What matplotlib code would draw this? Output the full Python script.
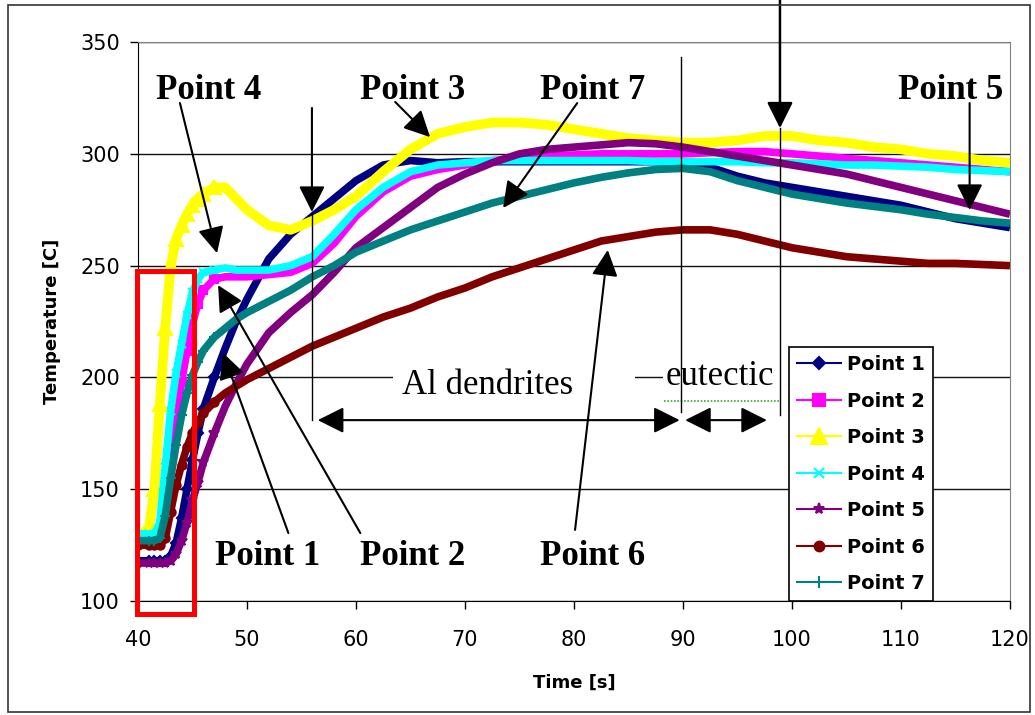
import matplotlib
matplotlib.use('Agg')
import matplotlib.pyplot as plt
from matplotlib.lines import Line2D
from matplotlib.patches import Rectangle

plt.rcParams['font.family'] = ['DejaVu Sans']

# time axis (s) shared by all probes
time = [40, 41, 41.5, 42, 42.5, 43, 43.5, 44, 44.5, 45, 45.5, 46, 47, 48, 49, 50,
        52, 54, 56, 58, 60, 62.5, 65, 67.5, 70, 72.5, 75, 77.5, 80, 82.5, 85, 87.5,
        90, 92.5, 95, 97.5, 100, 102.5, 105, 107.5, 110, 112.5, 115, 117.5, 120]

p1 = [118, 118, 118, 118, 118, 120, 126, 137, 150, 163, 175, 186, 200, 213, 225, 235,
      253, 264, 272, 280, 288, 295, 297, 296, 296.5, 296.5, 296.5, 296.5, 296.5, 296.5, 296.5, 296.5,
      296, 294, 290, 287, 285, 283, 281, 279, 277, 274, 271, 269, 267]
p2 = [128, 128, 128, 129, 150, 165, 182, 198, 212, 224, 233, 239, 244, 245, 245, 245,
      246, 247, 251, 260, 272, 283, 290, 293, 295, 297, 298, 299, 299.5, 300, 300, 300,
      300, 300.5, 301, 301, 300, 299, 298, 297, 296, 295, 294, 293, 292]
p3 = [130, 132, 150, 188, 222, 250, 262, 268, 273, 277, 280, 282, 285, 285, 280, 275,
      268, 266, 270, 275, 281, 292, 302, 309, 312, 314, 314, 313, 311, 309, 307, 306,
      305, 305, 306, 308, 308, 306, 305, 303, 302, 300, 299, 297, 296]
p4 = [130, 130, 130, 135, 160, 185, 202, 215, 228, 238, 244, 247, 248, 249, 248, 248,
      248, 250, 254, 264, 275, 285, 292, 295, 296, 297, 297, 297, 297, 297, 297, 296.5,
      296.5, 296.5, 296.5, 296, 296, 295.5, 295, 295, 294.5, 294, 293, 292.5, 292]
p5 = [117, 117, 117, 117, 117, 118, 121, 127, 135, 145, 153, 162, 175, 187, 197, 206,
      220, 229, 237, 247, 258, 267, 276, 285, 291, 296, 300, 302, 303, 304, 305, 304.5,
      303, 301, 299, 297, 295, 293, 291, 288, 285, 282, 279, 276, 273]
p6 = [125, 125, 125, 125, 128, 140, 152, 161, 169, 175, 180, 184, 189, 193, 196, 199,
      204, 209, 214, 218, 222, 227, 231, 236, 240, 245, 249, 253, 257, 261, 263, 265,
      266, 266, 264, 261, 258, 256, 254, 253, 252, 251, 251, 250.5, 250]
p7 = [127, 127, 127, 128, 138, 155, 170, 183, 193, 201, 207, 212, 218, 222, 226, 229,
      234, 239, 245, 250, 256, 261, 266, 270, 274, 278, 281, 284, 287, 289.5, 291.5, 293,
      293.5, 292, 288, 285, 282, 280, 278, 276.5, 275, 273, 271.5, 270, 269]

series = [p1, p2, p3, p4, p5, p6, p7]
names = ['Point 1', 'Point 2', 'Point 3', 'Point 4', 'Point 5', 'Point 6', 'Point 7']
colors = ['#000080', '#ff00ff', '#ffff00', '#00ffff', '#800080', '#800000', '#008080']
markers = ['D', 's', '^', 'x', '*', 'o', '+']
msizes = [5, 6, 10, 6, 7, 6, 7]
widths = [5.5, 5.5, 7, 5.5, 5.5, 5.5, 5.5]
legend_ms = [6, 8, 12, 7, 8, 7, 9]

# callout labels: text, text anchor (t, T), arrow tail, arrow tip
callouts = [
    ('Point 4', (46.5, 324.5), (43.85, 322.7), (47.25, 255.6)),
    ('Point 3', (65.2, 324.5), (63.6, 323.2), (66.8, 307.5)),
    ('Point 7', (81.7, 324.5), (80.3, 322.7), (73.5, 275.8)),
    ('Point 5', (114.6, 324.5), (116.3, 322.7), (116.3, 274.9)),
    ('Point 1', (51.9, 116.1), (53.8, 130.4), (47.8, 211.0)),
    ('Point 2', (65.2, 116.1), (60.4, 130.4), (47.35, 241.3)),
    ('Point 6', (81.7, 116.1), (80.1, 131.8), (83.1, 257.0)),
]

fig = plt.figure(figsize=(10.35, 7.15), dpi=100)
ax = fig.add_axes([0.1333, 0.1594, 0.8425, 0.7818])

# markers only show up where the rise is steep; elsewhere they merge into the band
for i, (vals, name) in enumerate(zip(series, names)):
    ax.plot(time, vals, color=colors[i], lw=widths[i], marker=markers[i], ms=msizes[i],
            mew=1.5, markevery=slice(0, 13), solid_capstyle='butt',
            zorder=2 + i * 0.1, label=name)

ax.set_xlim(40, 120)
ax.set_ylim(100, 350)
ax.set_xticks(range(40, 121, 10))
ax.set_yticks(range(100, 351, 50))
ax.set_axisbelow(True)
ax.yaxis.grid(True, color='#111111', lw=1.0)
ax.xaxis.grid(False)
ax.tick_params(direction='out', length=6, width=1, labelsize=15, color='black')
ax.tick_params(axis='y', pad=7)
ax.tick_params(axis='x', pad=15)
for side in ['left', 'bottom']:
    ax.spines[side].set_color('black')
for side in ['top', 'right']:
    ax.spines[side].set_color('#808080')
ax.set_xlabel('Time [s]', fontsize=13, fontweight='bold', labelpad=17)
ax.set_ylabel('Temperature [C]', fontsize=13, fontweight='bold', labelpad=14)

# white boxes behind the phase labels hide the 200 gridline
ax.add_patch(Rectangle((63.4, 190), 22.2, 17, facecolor='white', edgecolor='none', zorder=1))
ax.add_patch(Rectangle((88.2, 190), 11.6, 17, facecolor='white', edgecolor='none', zorder=1))

serif = 'Liberation Serif'
for text, pos, tail, tip in callouts:
    ax.text(pos[0], pos[1], text, family=serif, fontsize=25, fontweight='bold',
            ha='center', va='baseline', zorder=6)
    ax.annotate('', xy=tip, xytext=tail, annotation_clip=False,
                arrowprops=dict(arrowstyle='-|>,head_length=0.8,head_width=0.4',
                                mutation_scale=20, color='black', lw=1.5,
                                shrinkA=0, shrinkB=0), zorder=6)

ax.text(72.1, 192.6, 'Al dendrites', family=serif, fontsize=25, ha='center',
        va='baseline', zorder=6)
ax.text(93.4, 196.6, 'eutectic', family=serif, fontsize=25, ha='center',
        va='baseline', zorder=6)
ax.plot([88.3, 98.9], [189.5, 189.5], color='#33aa33', lw=1.2, ls=(0, (1, 1)), zorder=6)

# phase boundary markers
ax.annotate('', xy=(55.96, 274), xytext=(55.96, 320.5),
            arrowprops=dict(arrowstyle='-|>,head_length=0.8,head_width=0.4',
                            mutation_scale=20, color='black', lw=1.5,
                            shrinkA=0, shrinkB=0), zorder=6)
ax.plot([55.96, 55.96], [274, 181], color='black', lw=1.0, zorder=6)
ax.plot([89.8, 89.8], [343.3, 184.5], color='black', lw=1.0, zorder=6)
ax.annotate('', xy=(98.9, 311.5), xytext=(98.9, 368.8), annotation_clip=False,
            arrowprops=dict(arrowstyle='-|>,head_length=0.8,head_width=0.4',
                            mutation_scale=20, color='black', lw=1.8,
                            shrinkA=0, shrinkB=0, clip_on=False), zorder=6)
ax.plot([98.9, 98.9], [311.5, 183.2], color='black', lw=1.0, zorder=6)

for a, b in [((56.5, 180.9), (89.7, 180.9)), ((90.2, 180.9), (97.7, 180.9))]:
    ax.annotate('', xy=b, xytext=a,
                arrowprops=dict(arrowstyle='<|-|>,head_length=0.8,head_width=0.4',
                                mutation_scale=20, color='black', lw=1.5,
                                shrinkA=0, shrinkB=0), zorder=6)

# red box around the initial rise
ax.add_patch(Rectangle((39.95, 94.0), 5.23, 153.8, fill=False, edgecolor='#ff0000',
                       lw=3.6, clip_on=False, zorder=8))

handles = [Line2D([0], [0], color=colors[i], lw=1.5, marker=markers[i],
                  ms=legend_ms[i], mew=1.5) for i in range(7)]
leg = ax.legend(handles, names, loc='lower left', bbox_to_anchor=(0.7466, 0.0),
                borderaxespad=0, frameon=True, fancybox=False, framealpha=1,
                edgecolor='black', handlelength=2.3, handletextpad=0.3,
                labelspacing=0.9, borderpad=0.4,
                prop={'family': 'DejaVu Sans', 'weight': 'bold', 'size': 14})
leg.get_frame().set_linewidth(1.2)
leg.set_zorder(7)

fig.patches.append(Rectangle((0.0077, 0.0042), 0.9873, 0.9888, transform=fig.transFigure,
                             fill=False, edgecolor='#333333', lw=1.2))

fig.savefig('out.png', dpi=100)
